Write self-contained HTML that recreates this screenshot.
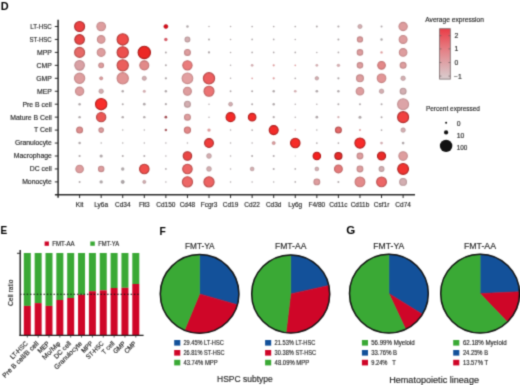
<!DOCTYPE html>
<html><head><meta charset="utf-8"><style>
html,body{margin:0;padding:0;background:#fff;}
body{width:520px;height:385px;overflow:hidden;}
svg{display:block;will-change:transform;font-family:"Liberation Sans",sans-serif;}
</style></head><body>
<svg width="520" height="385" viewBox="0 0 520 385">
<defs><filter id="soft" x="0" y="0" width="520" height="385" filterUnits="userSpaceOnUse" color-interpolation-filters="sRGB"><feConvolveMatrix order="3" kernelMatrix="1 4 1 4 16 4 1 4 1" edgeMode="duplicate" preserveAlpha="true"/></filter></defs>
<g filter="url(#soft)">
<rect width="520" height="385" fill="#fff"/>
<text x="0.8" y="10.0" font-size="10.6" text-anchor="start" font-weight="bold" fill="#000" textLength="7.9" lengthAdjust="spacingAndGlyphs" >D</text>
<line x1="58.1" y1="19.8" x2="58.1" y2="197.8" stroke="#2a2a2a" stroke-width="1.5"/>
<line x1="54.9" y1="194.8" x2="415" y2="194.8" stroke="#2a2a2a" stroke-width="1.5"/>
<line x1="54.8" y1="26.50" x2="58.1" y2="26.50" stroke="#2a2a2a" stroke-width="1"/>
<text x="51.8" y="28.85" font-size="6.85" text-anchor="end" font-weight="normal" fill="#262626" stroke="#262626" stroke-width="0.15" textLength="21.6" lengthAdjust="spacingAndGlyphs" >LT-HSC</text>
<line x1="54.8" y1="39.45" x2="58.1" y2="39.45" stroke="#2a2a2a" stroke-width="1"/>
<text x="51.8" y="41.800000000000004" font-size="6.85" text-anchor="end" font-weight="normal" fill="#262626" stroke="#262626" stroke-width="0.15" textLength="22.4" lengthAdjust="spacingAndGlyphs" >ST-HSC</text>
<line x1="54.8" y1="52.40" x2="58.1" y2="52.40" stroke="#2a2a2a" stroke-width="1"/>
<text x="51.8" y="54.75" font-size="6.85" text-anchor="end" font-weight="normal" fill="#262626" stroke="#262626" stroke-width="0.15" >MPP</text>
<line x1="54.8" y1="65.35" x2="58.1" y2="65.35" stroke="#2a2a2a" stroke-width="1"/>
<text x="51.8" y="67.69999999999999" font-size="6.85" text-anchor="end" font-weight="normal" fill="#262626" stroke="#262626" stroke-width="0.15" >CMP</text>
<line x1="54.8" y1="78.30" x2="58.1" y2="78.30" stroke="#2a2a2a" stroke-width="1"/>
<text x="51.8" y="80.64999999999999" font-size="6.85" text-anchor="end" font-weight="normal" fill="#262626" stroke="#262626" stroke-width="0.15" >GMP</text>
<line x1="54.8" y1="91.25" x2="58.1" y2="91.25" stroke="#2a2a2a" stroke-width="1"/>
<text x="51.8" y="93.6" font-size="6.85" text-anchor="end" font-weight="normal" fill="#262626" stroke="#262626" stroke-width="0.15" >MEP</text>
<line x1="54.8" y1="104.20" x2="58.1" y2="104.20" stroke="#2a2a2a" stroke-width="1"/>
<text x="51.8" y="106.54999999999998" font-size="6.85" text-anchor="end" font-weight="normal" fill="#262626" stroke="#262626" stroke-width="0.15" >Pre B cell</text>
<line x1="54.8" y1="117.15" x2="58.1" y2="117.15" stroke="#2a2a2a" stroke-width="1"/>
<text x="51.8" y="119.49999999999999" font-size="6.85" text-anchor="end" font-weight="normal" fill="#262626" stroke="#262626" stroke-width="0.15" >Mature B Cell</text>
<line x1="54.8" y1="130.10" x2="58.1" y2="130.10" stroke="#2a2a2a" stroke-width="1"/>
<text x="51.8" y="132.45" font-size="6.85" text-anchor="end" font-weight="normal" fill="#262626" stroke="#262626" stroke-width="0.15" >T Cell</text>
<line x1="54.8" y1="143.05" x2="58.1" y2="143.05" stroke="#2a2a2a" stroke-width="1"/>
<text x="51.8" y="145.4" font-size="6.85" text-anchor="end" font-weight="normal" fill="#262626" stroke="#262626" stroke-width="0.15" >Granulocyte</text>
<line x1="54.8" y1="156.00" x2="58.1" y2="156.00" stroke="#2a2a2a" stroke-width="1"/>
<text x="51.8" y="158.35" font-size="6.85" text-anchor="end" font-weight="normal" fill="#262626" stroke="#262626" stroke-width="0.15" >Macrophage</text>
<line x1="54.8" y1="168.95" x2="58.1" y2="168.95" stroke="#2a2a2a" stroke-width="1"/>
<text x="51.8" y="171.29999999999998" font-size="6.85" text-anchor="end" font-weight="normal" fill="#262626" stroke="#262626" stroke-width="0.15" >DC cell</text>
<line x1="54.8" y1="181.90" x2="58.1" y2="181.90" stroke="#2a2a2a" stroke-width="1"/>
<text x="51.8" y="184.24999999999997" font-size="6.85" text-anchor="end" font-weight="normal" fill="#262626" stroke="#262626" stroke-width="0.15" >Monocyte</text>
<line x1="79.60" y1="194.8" x2="79.60" y2="198" stroke="#2a2a2a" stroke-width="1"/>
<text x="79.6" y="206.5" font-size="6.5" text-anchor="middle" font-weight="normal" fill="#262626" stroke="#262626" stroke-width="0.15" >Kit</text>
<line x1="101.17" y1="194.8" x2="101.17" y2="198" stroke="#2a2a2a" stroke-width="1"/>
<text x="101.167" y="206.5" font-size="6.5" text-anchor="middle" font-weight="normal" fill="#262626" stroke="#262626" stroke-width="0.15" >Ly6a</text>
<line x1="122.73" y1="194.8" x2="122.73" y2="198" stroke="#2a2a2a" stroke-width="1"/>
<text x="122.734" y="206.5" font-size="6.5" text-anchor="middle" font-weight="normal" fill="#262626" stroke="#262626" stroke-width="0.15" >Cd34</text>
<line x1="144.30" y1="194.8" x2="144.30" y2="198" stroke="#2a2a2a" stroke-width="1"/>
<text x="144.301" y="206.5" font-size="6.5" text-anchor="middle" font-weight="normal" fill="#262626" stroke="#262626" stroke-width="0.15" >Flt3</text>
<line x1="165.87" y1="194.8" x2="165.87" y2="198" stroke="#2a2a2a" stroke-width="1"/>
<text x="165.868" y="206.5" font-size="6.5" text-anchor="middle" font-weight="normal" fill="#262626" stroke="#262626" stroke-width="0.15" >Cd150</text>
<line x1="187.44" y1="194.8" x2="187.44" y2="198" stroke="#2a2a2a" stroke-width="1"/>
<text x="187.435" y="206.5" font-size="6.5" text-anchor="middle" font-weight="normal" fill="#262626" stroke="#262626" stroke-width="0.15" >Cd48</text>
<line x1="209.00" y1="194.8" x2="209.00" y2="198" stroke="#2a2a2a" stroke-width="1"/>
<text x="209.00199999999998" y="206.5" font-size="6.5" text-anchor="middle" font-weight="normal" fill="#262626" stroke="#262626" stroke-width="0.15" >Fcgr3</text>
<line x1="230.57" y1="194.8" x2="230.57" y2="198" stroke="#2a2a2a" stroke-width="1"/>
<text x="230.569" y="206.5" font-size="6.5" text-anchor="middle" font-weight="normal" fill="#262626" stroke="#262626" stroke-width="0.15" >Cd19</text>
<line x1="252.14" y1="194.8" x2="252.14" y2="198" stroke="#2a2a2a" stroke-width="1"/>
<text x="252.136" y="206.5" font-size="6.5" text-anchor="middle" font-weight="normal" fill="#262626" stroke="#262626" stroke-width="0.15" >Cd22</text>
<line x1="273.70" y1="194.8" x2="273.70" y2="198" stroke="#2a2a2a" stroke-width="1"/>
<text x="273.703" y="206.5" font-size="6.5" text-anchor="middle" font-weight="normal" fill="#262626" stroke="#262626" stroke-width="0.15" >Cd3d</text>
<line x1="295.27" y1="194.8" x2="295.27" y2="198" stroke="#2a2a2a" stroke-width="1"/>
<text x="295.27" y="206.5" font-size="6.5" text-anchor="middle" font-weight="normal" fill="#262626" stroke="#262626" stroke-width="0.15" >Ly6g</text>
<line x1="316.84" y1="194.8" x2="316.84" y2="198" stroke="#2a2a2a" stroke-width="1"/>
<text x="316.837" y="206.5" font-size="6.5" text-anchor="middle" font-weight="normal" fill="#262626" stroke="#262626" stroke-width="0.15" >F4/80</text>
<line x1="338.40" y1="194.8" x2="338.40" y2="198" stroke="#2a2a2a" stroke-width="1"/>
<text x="338.404" y="206.5" font-size="6.5" text-anchor="middle" font-weight="normal" fill="#262626" stroke="#262626" stroke-width="0.15" >Cd11c</text>
<line x1="359.97" y1="194.8" x2="359.97" y2="198" stroke="#2a2a2a" stroke-width="1"/>
<text x="359.971" y="206.5" font-size="6.5" text-anchor="middle" font-weight="normal" fill="#262626" stroke="#262626" stroke-width="0.15" >Cd11b</text>
<line x1="381.54" y1="194.8" x2="381.54" y2="198" stroke="#2a2a2a" stroke-width="1"/>
<text x="381.538" y="206.5" font-size="6.5" text-anchor="middle" font-weight="normal" fill="#262626" stroke="#262626" stroke-width="0.15" >Csf1r</text>
<line x1="403.11" y1="194.8" x2="403.11" y2="198" stroke="#2a2a2a" stroke-width="1"/>
<text x="403.105" y="206.5" font-size="6.5" text-anchor="middle" font-weight="normal" fill="#262626" stroke="#262626" stroke-width="0.15" >Cd74</text>
<circle cx="79.60" cy="26.50" r="5.00" fill="#eb4142" stroke="#ac2f30" stroke-width="1.1"/>
<circle cx="101.17" cy="26.50" r="4.30" fill="#de9d9e" stroke="#c38a8b" stroke-width="1.1"/>
<circle cx="165.87" cy="26.50" r="2.00" fill="#d80e1a" stroke="#b10b15" stroke-width="0.6"/>
<circle cx="187.44" cy="26.50" r="1.25" fill="#b0a8aa"/>
<circle cx="209.00" cy="26.50" r="0.75" fill="#b0a8aa"/>
<circle cx="230.57" cy="26.50" r="0.75" fill="#b0a8aa"/>
<circle cx="252.14" cy="26.50" r="0.85" fill="#b0a8aa"/>
<circle cx="273.70" cy="26.50" r="0.85" fill="#b0a8aa"/>
<circle cx="295.27" cy="26.50" r="0.85" fill="#b0a8aa"/>
<circle cx="316.84" cy="26.50" r="1.00" fill="#b0a8aa"/>
<circle cx="338.40" cy="26.50" r="1.10" fill="#b0a8aa"/>
<circle cx="359.97" cy="26.50" r="2.10" fill="#d3aeb1" stroke="#ad8e91" stroke-width="0.6"/>
<circle cx="381.54" cy="26.50" r="1.00" fill="#b0a8aa"/>
<circle cx="403.11" cy="26.50" r="4.15" fill="#de9d9e" stroke="#c38a8b" stroke-width="1.1"/>
<circle cx="79.60" cy="39.45" r="4.80" fill="#ea4646" stroke="#ad3333" stroke-width="1.1"/>
<circle cx="101.17" cy="39.45" r="3.80" fill="#de9d9e" stroke="#c38a8b" stroke-width="1.1"/>
<circle cx="122.73" cy="39.45" r="5.65" fill="#ef4c49" stroke="#b13836" stroke-width="1.1"/>
<circle cx="165.87" cy="39.45" r="1.70" fill="#d4606a"/>
<circle cx="187.44" cy="39.45" r="2.40" fill="#d3aeb1" stroke="#b9999b" stroke-width="1.1"/>
<circle cx="209.00" cy="39.45" r="1.00" fill="#b0a8aa"/>
<circle cx="230.57" cy="39.45" r="0.75" fill="#b0a8aa"/>
<circle cx="252.14" cy="39.45" r="0.85" fill="#b0a8aa"/>
<circle cx="273.70" cy="39.45" r="0.85" fill="#b0a8aa"/>
<circle cx="295.27" cy="39.45" r="0.75" fill="#b0a8aa"/>
<circle cx="338.40" cy="39.45" r="1.00" fill="#b0a8aa"/>
<circle cx="359.97" cy="39.45" r="2.60" fill="#de9d9e" stroke="#c38a8b" stroke-width="1.1"/>
<circle cx="381.54" cy="39.45" r="1.20" fill="#b0a8aa"/>
<circle cx="403.11" cy="39.45" r="3.95" fill="#de9d9e" stroke="#c38a8b" stroke-width="1.1"/>
<circle cx="79.60" cy="52.40" r="5.00" fill="#e66967" stroke="#b85452" stroke-width="1.1"/>
<circle cx="101.17" cy="52.40" r="3.95" fill="#de9d9e" stroke="#c38a8b" stroke-width="1.1"/>
<circle cx="122.73" cy="52.40" r="5.65" fill="#ec4f4d" stroke="#b13b3a" stroke-width="1.1"/>
<circle cx="144.30" cy="52.40" r="6.20" fill="#ec2825" stroke="#a91c1a" stroke-width="1.1"/>
<circle cx="165.87" cy="52.40" r="1.00" fill="#b0a8aa"/>
<circle cx="187.44" cy="52.40" r="2.95" fill="#de9d9e" stroke="#c38a8b" stroke-width="1.1"/>
<circle cx="209.00" cy="52.40" r="1.15" fill="#b0a8aa"/>
<circle cx="230.57" cy="52.40" r="0.75" fill="#b0a8aa"/>
<circle cx="252.14" cy="52.40" r="0.85" fill="#b0a8aa"/>
<circle cx="273.70" cy="52.40" r="0.85" fill="#b0a8aa"/>
<circle cx="295.27" cy="52.40" r="0.85" fill="#b0a8aa"/>
<circle cx="316.84" cy="52.40" r="0.75" fill="#b0a8aa"/>
<circle cx="338.40" cy="52.40" r="0.85" fill="#b0a8aa"/>
<circle cx="359.97" cy="52.40" r="2.75" fill="#de9d9e" stroke="#c38a8b" stroke-width="1.1"/>
<circle cx="381.54" cy="52.40" r="1.20" fill="#de9d9e"/>
<circle cx="403.11" cy="52.40" r="3.80" fill="#de9d9e" stroke="#c38a8b" stroke-width="1.1"/>
<circle cx="79.60" cy="65.35" r="4.80" fill="#d9a0a4" stroke="#be8c90" stroke-width="1.1"/>
<circle cx="101.17" cy="65.35" r="2.40" fill="#de9d9e" stroke="#c38a8b" stroke-width="1.1"/>
<circle cx="122.73" cy="65.35" r="5.65" fill="#eb5e5c" stroke="#b74947" stroke-width="1.1"/>
<circle cx="144.30" cy="65.35" r="4.50" fill="#e28a89" stroke="#c27676" stroke-width="1.1"/>
<circle cx="165.87" cy="65.35" r="1.00" fill="#b0a8aa"/>
<circle cx="187.44" cy="65.35" r="4.65" fill="#ea7c7c" stroke="#c16666" stroke-width="1.1"/>
<circle cx="230.57" cy="65.35" r="0.75" fill="#b0a8aa"/>
<circle cx="252.14" cy="65.35" r="1.35" fill="#d3aeb1"/>
<circle cx="273.70" cy="65.35" r="1.10" fill="#de9d9e"/>
<circle cx="295.27" cy="65.35" r="0.85" fill="#de9d9e"/>
<circle cx="316.84" cy="65.35" r="1.35" fill="#d3aeb1"/>
<circle cx="338.40" cy="65.35" r="1.70" fill="#d3aeb1"/>
<circle cx="359.97" cy="65.35" r="2.75" fill="#de9d9e" stroke="#c38a8b" stroke-width="1.1"/>
<circle cx="381.54" cy="65.35" r="3.80" fill="#e38888" stroke="#c27474" stroke-width="1.1"/>
<circle cx="403.11" cy="65.35" r="2.95" fill="#de9d9e" stroke="#c38a8b" stroke-width="1.1"/>
<circle cx="79.60" cy="78.30" r="5.15" fill="#de9d9e" stroke="#c38a8b" stroke-width="1.1"/>
<circle cx="101.17" cy="78.30" r="1.60" fill="#de9d9e" stroke="#b68081" stroke-width="0.6"/>
<circle cx="122.73" cy="78.30" r="5.65" fill="#e29595" stroke="#c68383" stroke-width="1.1"/>
<circle cx="144.30" cy="78.30" r="2.10" fill="#d3aeb1" stroke="#ad8e91" stroke-width="0.6"/>
<circle cx="165.87" cy="78.30" r="1.15" fill="#b0a8aa"/>
<circle cx="187.44" cy="78.30" r="5.35" fill="#e3a0a1" stroke="#c78c8d" stroke-width="1.1"/>
<circle cx="209.00" cy="78.30" r="5.65" fill="#ec5e5f" stroke="#b74949" stroke-width="1.1"/>
<circle cx="230.57" cy="78.30" r="0.75" fill="#b0a8aa"/>
<circle cx="252.14" cy="78.30" r="0.85" fill="#de9d9e"/>
<circle cx="273.70" cy="78.30" r="1.10" fill="#de9d9e"/>
<circle cx="295.27" cy="78.30" r="0.85" fill="#b0a8aa"/>
<circle cx="316.84" cy="78.30" r="1.75" fill="#d3aeb1" stroke="#ad8e91" stroke-width="0.6"/>
<circle cx="338.40" cy="78.30" r="1.10" fill="#b0a8aa"/>
<circle cx="359.97" cy="78.30" r="3.45" fill="#de9d9e" stroke="#c38a8b" stroke-width="1.1"/>
<circle cx="381.54" cy="78.30" r="4.30" fill="#e29596" stroke="#c68383" stroke-width="1.1"/>
<circle cx="403.11" cy="78.30" r="2.25" fill="#d3aeb1" stroke="#ad8e91" stroke-width="0.6"/>
<circle cx="79.60" cy="91.25" r="4.15" fill="#de9d9e" stroke="#c38a8b" stroke-width="1.1"/>
<circle cx="101.17" cy="91.25" r="2.25" fill="#d3aeb1" stroke="#ad8e91" stroke-width="0.6"/>
<circle cx="122.73" cy="91.25" r="1.20" fill="#b0a8aa"/>
<circle cx="144.30" cy="91.25" r="1.50" fill="#d3aeb1"/>
<circle cx="165.87" cy="91.25" r="1.20" fill="#b0a8aa"/>
<circle cx="187.44" cy="91.25" r="3.95" fill="#de9d9e" stroke="#c38a8b" stroke-width="1.1"/>
<circle cx="209.00" cy="91.25" r="5.00" fill="#eb7373" stroke="#be5d5d" stroke-width="1.1"/>
<circle cx="230.57" cy="91.25" r="0.90" fill="#b0a8aa"/>
<circle cx="252.14" cy="91.25" r="1.00" fill="#b0a8aa"/>
<circle cx="273.70" cy="91.25" r="1.20" fill="#b0a8aa"/>
<circle cx="295.27" cy="91.25" r="1.35" fill="#d3aeb1"/>
<circle cx="316.84" cy="91.25" r="1.35" fill="#b0a8aa"/>
<circle cx="338.40" cy="91.25" r="1.20" fill="#b0a8aa"/>
<circle cx="359.97" cy="91.25" r="3.80" fill="#de9d9e" stroke="#c38a8b" stroke-width="1.1"/>
<circle cx="381.54" cy="91.25" r="2.25" fill="#d3aeb1" stroke="#ad8e91" stroke-width="0.6"/>
<circle cx="403.11" cy="91.25" r="2.95" fill="#d3aeb1" stroke="#b9999b" stroke-width="1.1"/>
<circle cx="79.60" cy="104.20" r="1.20" fill="#b0a8aa"/>
<circle cx="101.17" cy="104.20" r="5.65" fill="#f82d2a" stroke="#b2201e" stroke-width="1.1"/>
<circle cx="122.73" cy="104.20" r="1.00" fill="#b0a8aa"/>
<circle cx="144.30" cy="104.20" r="1.35" fill="#b0a8aa"/>
<circle cx="165.87" cy="104.20" r="1.10" fill="#b0a8aa"/>
<circle cx="187.44" cy="104.20" r="2.95" fill="#d3aeb1" stroke="#b9999b" stroke-width="1.1"/>
<circle cx="209.00" cy="104.20" r="0.75" fill="#b0a8aa"/>
<circle cx="230.57" cy="104.20" r="1.95" fill="#d3aeb1" stroke="#ad8e91" stroke-width="0.6"/>
<circle cx="252.14" cy="104.20" r="1.00" fill="#b0a8aa"/>
<circle cx="273.70" cy="104.20" r="1.20" fill="#b0a8aa"/>
<circle cx="295.27" cy="104.20" r="0.75" fill="#b0a8aa"/>
<circle cx="316.84" cy="104.20" r="0.75" fill="#b0a8aa"/>
<circle cx="338.40" cy="104.20" r="1.00" fill="#b0a8aa"/>
<circle cx="359.97" cy="104.20" r="1.00" fill="#b0a8aa"/>
<circle cx="381.54" cy="104.20" r="1.00" fill="#b0a8aa"/>
<circle cx="403.11" cy="104.20" r="5.50" fill="#dca4a7" stroke="#c19092" stroke-width="1.1"/>
<circle cx="79.60" cy="117.15" r="1.20" fill="#b0a8aa"/>
<circle cx="101.17" cy="117.15" r="4.65" fill="#eb5755" stroke="#b44241" stroke-width="1.1"/>
<circle cx="122.73" cy="117.15" r="1.20" fill="#b0a8aa"/>
<circle cx="144.30" cy="117.15" r="1.20" fill="#b0a8aa"/>
<circle cx="165.87" cy="117.15" r="1.35" fill="#a35055"/>
<circle cx="187.44" cy="117.15" r="2.95" fill="#de9d9e" stroke="#c38a8b" stroke-width="1.1"/>
<circle cx="209.00" cy="117.15" r="0.75" fill="#b0a8aa"/>
<circle cx="230.57" cy="117.15" r="4.50" fill="#f52a28" stroke="#b01e1c" stroke-width="1.1"/>
<circle cx="252.14" cy="117.15" r="3.80" fill="#f42d2b" stroke="#af201e" stroke-width="1.1"/>
<circle cx="273.70" cy="117.15" r="1.10" fill="#b0a8aa"/>
<circle cx="295.27" cy="117.15" r="0.75" fill="#b0a8aa"/>
<circle cx="316.84" cy="117.15" r="1.35" fill="#b0a8aa"/>
<circle cx="338.40" cy="117.15" r="1.10" fill="#d3aeb1"/>
<circle cx="359.97" cy="117.15" r="1.50" fill="#b0a8aa"/>
<circle cx="381.54" cy="117.15" r="1.00" fill="#b0a8aa"/>
<circle cx="403.11" cy="117.15" r="5.50" fill="#f14241" stroke="#ae2f2f" stroke-width="1.1"/>
<circle cx="79.60" cy="130.10" r="2.95" fill="#de8e8e" stroke="#c27c7c" stroke-width="1.1"/>
<circle cx="101.17" cy="130.10" r="2.25" fill="#de9d9e" stroke="#c38a8b" stroke-width="1.1"/>
<circle cx="122.73" cy="130.10" r="0.75" fill="#b0a8aa"/>
<circle cx="144.30" cy="130.10" r="0.75" fill="#b0a8aa"/>
<circle cx="165.87" cy="130.10" r="1.25" fill="#aa6064"/>
<circle cx="187.44" cy="130.10" r="3.10" fill="#e38888" stroke="#c27474" stroke-width="1.1"/>
<circle cx="209.00" cy="130.10" r="1.70" fill="#de9d9e"/>
<circle cx="230.57" cy="130.10" r="0.75" fill="#b0a8aa"/>
<circle cx="252.14" cy="130.10" r="0.85" fill="#b0a8aa"/>
<circle cx="273.70" cy="130.10" r="4.50" fill="#f32c2a" stroke="#ae1f1e" stroke-width="1.1"/>
<circle cx="295.27" cy="130.10" r="0.75" fill="#de9d9e"/>
<circle cx="316.84" cy="130.10" r="0.75" fill="#b0a8aa"/>
<circle cx="338.40" cy="130.10" r="2.95" fill="#e46969" stroke="#b85454" stroke-width="1.1"/>
<circle cx="359.97" cy="130.10" r="1.00" fill="#de9d9e"/>
<circle cx="381.54" cy="130.10" r="0.85" fill="#b0a8aa"/>
<circle cx="403.11" cy="130.10" r="2.25" fill="#d3aeb1" stroke="#ad8e91" stroke-width="0.6"/>
<circle cx="79.60" cy="143.05" r="1.25" fill="#b0a8aa"/>
<circle cx="101.17" cy="143.05" r="0.75" fill="#b0a8aa"/>
<circle cx="122.73" cy="143.05" r="0.75" fill="#b0a8aa"/>
<circle cx="144.30" cy="143.05" r="0.75" fill="#b0a8aa"/>
<circle cx="165.87" cy="143.05" r="0.75" fill="#b0a8aa"/>
<circle cx="187.44" cy="143.05" r="0.75" fill="#b0a8aa"/>
<circle cx="209.00" cy="143.05" r="4.40" fill="#f03d3c" stroke="#ac2b2b" stroke-width="1.1"/>
<circle cx="230.57" cy="143.05" r="0.75" fill="#b0a8aa"/>
<circle cx="252.14" cy="143.05" r="0.75" fill="#b0a8aa"/>
<circle cx="273.70" cy="143.05" r="1.55" fill="#de9d9e" stroke="#b68081" stroke-width="0.6"/>
<circle cx="295.27" cy="143.05" r="4.75" fill="#f62c28" stroke="#b11f1c" stroke-width="1.1"/>
<circle cx="316.84" cy="143.05" r="0.85" fill="#b0a8aa"/>
<circle cx="338.40" cy="143.05" r="0.85" fill="#b0a8aa"/>
<circle cx="359.97" cy="143.05" r="5.10" fill="#f82c2a" stroke="#b21f1e" stroke-width="1.1"/>
<circle cx="381.54" cy="143.05" r="1.35" fill="#d3aeb1"/>
<circle cx="403.11" cy="143.05" r="1.35" fill="#b0a8aa"/>
<circle cx="79.60" cy="156.00" r="1.10" fill="#b0a8aa"/>
<circle cx="101.17" cy="156.00" r="1.60" fill="#b0a8aa"/>
<circle cx="122.73" cy="156.00" r="1.00" fill="#b0a8aa"/>
<circle cx="144.30" cy="156.00" r="1.00" fill="#b0a8aa"/>
<circle cx="165.87" cy="156.00" r="0.75" fill="#b0a8aa"/>
<circle cx="187.44" cy="156.00" r="4.25" fill="#ea4644" stroke="#ad3332" stroke-width="1.1"/>
<circle cx="209.00" cy="156.00" r="2.40" fill="#d3aeb1" stroke="#ad8e91" stroke-width="0.6"/>
<circle cx="230.57" cy="156.00" r="0.75" fill="#b0a8aa"/>
<circle cx="252.14" cy="156.00" r="1.00" fill="#b0a8aa"/>
<circle cx="273.70" cy="156.00" r="1.00" fill="#b0a8aa"/>
<circle cx="295.27" cy="156.00" r="0.60" fill="#b0a8aa"/>
<circle cx="316.84" cy="156.00" r="3.75" fill="#f4211f" stroke="#af1716" stroke-width="1.1"/>
<circle cx="338.40" cy="156.00" r="3.55" fill="#e62a29" stroke="#a51e1d" stroke-width="1.1"/>
<circle cx="359.97" cy="156.00" r="2.90" fill="#de9d9e" stroke="#c38a8b" stroke-width="1.1"/>
<circle cx="381.54" cy="156.00" r="4.05" fill="#eb2a28" stroke="#a91e1c" stroke-width="1.1"/>
<circle cx="403.11" cy="156.00" r="4.25" fill="#de9d9e" stroke="#c38a8b" stroke-width="1.1"/>
<circle cx="79.60" cy="168.95" r="3.75" fill="#de9d9e" stroke="#c38a8b" stroke-width="1.1"/>
<circle cx="101.17" cy="168.95" r="2.70" fill="#de9d9e" stroke="#c38a8b" stroke-width="1.1"/>
<circle cx="122.73" cy="168.95" r="1.70" fill="#b0a8aa"/>
<circle cx="144.30" cy="168.95" r="4.75" fill="#f04f4c" stroke="#b33b38" stroke-width="1.1"/>
<circle cx="165.87" cy="168.95" r="0.90" fill="#b0a8aa"/>
<circle cx="187.44" cy="168.95" r="4.75" fill="#ed6665" stroke="#ba504f" stroke-width="1.1"/>
<circle cx="209.00" cy="168.95" r="2.40" fill="#d3aeb1" stroke="#ad8e91" stroke-width="0.6"/>
<circle cx="230.57" cy="168.95" r="0.75" fill="#b0a8aa"/>
<circle cx="252.14" cy="168.95" r="1.90" fill="#d3aeb1" stroke="#ad8e91" stroke-width="0.6"/>
<circle cx="273.70" cy="168.95" r="1.00" fill="#b0a8aa"/>
<circle cx="295.27" cy="168.95" r="0.85" fill="#b0a8aa"/>
<circle cx="316.84" cy="168.95" r="1.90" fill="#d3aeb1" stroke="#ad8e91" stroke-width="0.6"/>
<circle cx="338.40" cy="168.95" r="3.90" fill="#e47a7a" stroke="#be6565" stroke-width="1.1"/>
<circle cx="359.97" cy="168.95" r="2.90" fill="#de9d9e" stroke="#c38a8b" stroke-width="1.1"/>
<circle cx="381.54" cy="168.95" r="2.40" fill="#d3aeb1" stroke="#b9999b" stroke-width="1.1"/>
<circle cx="403.11" cy="168.95" r="5.40" fill="#f03431" stroke="#ac2523" stroke-width="1.1"/>
<circle cx="79.60" cy="181.90" r="1.00" fill="#b0a8aa"/>
<circle cx="101.17" cy="181.90" r="1.70" fill="#b0a8aa"/>
<circle cx="122.73" cy="181.90" r="1.55" fill="#b0a8aa" stroke="#90898b" stroke-width="0.6"/>
<circle cx="144.30" cy="181.90" r="1.55" fill="#d3aeb1" stroke="#ad8e91" stroke-width="0.6"/>
<circle cx="165.87" cy="181.90" r="0.75" fill="#b0a8aa"/>
<circle cx="187.44" cy="181.90" r="5.10" fill="#ed6766" stroke="#bb5150" stroke-width="1.1"/>
<circle cx="209.00" cy="181.90" r="5.10" fill="#ed6362" stroke="#b94d4c" stroke-width="1.1"/>
<circle cx="230.57" cy="181.90" r="0.75" fill="#b0a8aa"/>
<circle cx="252.14" cy="181.90" r="0.75" fill="#b0a8aa"/>
<circle cx="273.70" cy="181.90" r="0.75" fill="#b0a8aa"/>
<circle cx="295.27" cy="181.90" r="0.85" fill="#b0a8aa"/>
<circle cx="316.84" cy="181.90" r="2.90" fill="#de9d9e" stroke="#c38a8b" stroke-width="1.1"/>
<circle cx="338.40" cy="181.90" r="1.00" fill="#b0a8aa"/>
<circle cx="359.97" cy="181.90" r="4.90" fill="#e38a8a" stroke="#c37676" stroke-width="1.1"/>
<circle cx="381.54" cy="181.90" r="4.90" fill="#ec6666" stroke="#ba5050" stroke-width="1.1"/>
<circle cx="403.11" cy="181.90" r="3.40" fill="#d3aeb1" stroke="#b9999b" stroke-width="1.1"/>
<text x="425.3" y="21.5" font-size="7" text-anchor="start" font-weight="normal" fill="#262626" stroke="#262626" stroke-width="0.15" textLength="58.6" lengthAdjust="spacingAndGlyphs" >Average expression</text>
<defs><linearGradient id="cb" x1="0" y1="0" x2="0" y2="1"><stop offset="0" stop-color="#ea3c46"/><stop offset="0.35" stop-color="#e6767c"/><stop offset="0.68" stop-color="#dea4a8"/><stop offset="1" stop-color="#d9cdcf"/></linearGradient></defs>
<rect x="439.6" y="28.7" width="10.7" height="50.4" fill="url(#cb)" stroke="#7a6a6c" stroke-width="0.8"/>
<line x1="439.6" y1="35.7" x2="441.4" y2="35.7" stroke="#6a5a5c" stroke-width="0.7"/>
<line x1="448.5" y1="35.7" x2="450.3" y2="35.7" stroke="#6a5a5c" stroke-width="0.7"/>
<text x="454.6" y="38.1" font-size="6.8" text-anchor="start" font-weight="normal" fill="#262626" stroke="#262626" stroke-width="0.15" >2</text>
<line x1="439.6" y1="48.9" x2="441.4" y2="48.9" stroke="#6a5a5c" stroke-width="0.7"/>
<line x1="448.5" y1="48.9" x2="450.3" y2="48.9" stroke="#6a5a5c" stroke-width="0.7"/>
<text x="454.6" y="51.3" font-size="6.8" text-anchor="start" font-weight="normal" fill="#262626" stroke="#262626" stroke-width="0.15" >1</text>
<line x1="439.6" y1="62.5" x2="441.4" y2="62.5" stroke="#6a5a5c" stroke-width="0.7"/>
<line x1="448.5" y1="62.5" x2="450.3" y2="62.5" stroke="#6a5a5c" stroke-width="0.7"/>
<text x="454.6" y="64.9" font-size="6.8" text-anchor="start" font-weight="normal" fill="#262626" stroke="#262626" stroke-width="0.15" >0</text>
<line x1="439.6" y1="76.1" x2="441.4" y2="76.1" stroke="#6a5a5c" stroke-width="0.7"/>
<line x1="448.5" y1="76.1" x2="450.3" y2="76.1" stroke="#6a5a5c" stroke-width="0.7"/>
<text x="454.0" y="78.5" font-size="6.8" text-anchor="start" font-weight="normal" fill="#262626" stroke="#262626" stroke-width="0.15" >&#8722;1</text>
<text x="425.9" y="111.0" font-size="7" text-anchor="start" font-weight="normal" fill="#262626" stroke="#262626" stroke-width="0.15" textLength="54.1" lengthAdjust="spacingAndGlyphs" >Percent expressed</text>
<circle cx="446.1" cy="122.8" r="1.0" fill="#111"/>
<circle cx="446.1" cy="132.4" r="2.1" fill="#111"/>
<circle cx="446.1" cy="145.9" r="6.2" fill="#111"/>
<text x="456.8" y="125.6" font-size="6.8" text-anchor="start" font-weight="normal" fill="#262626" stroke="#262626" stroke-width="0.15" >0</text>
<text x="456.8" y="137.9" font-size="6.8" text-anchor="start" font-weight="normal" fill="#262626" stroke="#262626" stroke-width="0.15" textLength="7.6" lengthAdjust="spacingAndGlyphs" >10</text>
<text x="456.8" y="150.2" font-size="6.8" text-anchor="start" font-weight="normal" fill="#262626" stroke="#262626" stroke-width="0.15" textLength="10.6" lengthAdjust="spacingAndGlyphs" >100</text>
<text x="0.6" y="234.3" font-size="10" text-anchor="start" font-weight="bold" fill="#000" >E</text>
<rect x="44.6" y="241.5" width="4.3" height="4.3" fill="#cf0628"/>
<text x="52.3" y="245.8" font-size="6.3" text-anchor="start" font-weight="normal" fill="#262626" stroke="#262626" stroke-width="0.15" textLength="22.3" lengthAdjust="spacingAndGlyphs" >FMT-AA</text>
<rect x="90.3" y="241.5" width="4.5" height="4.3" fill="#3aa935"/>
<text x="98.2" y="245.8" font-size="6.3" text-anchor="start" font-weight="normal" fill="#262626" stroke="#262626" stroke-width="0.15" textLength="21.0" lengthAdjust="spacingAndGlyphs" >FMT-YA</text>
<rect x="23.80" y="253.0" width="7.0" height="52.90" fill="#3aa935"/>
<rect x="23.80" y="305.90" width="7.0" height="29.10" fill="#cf0628"/>
<rect x="34.65" y="253.0" width="7.0" height="50.10" fill="#3aa935"/>
<rect x="34.65" y="303.10" width="7.0" height="31.90" fill="#cf0628"/>
<rect x="45.50" y="253.0" width="7.0" height="52.90" fill="#3aa935"/>
<rect x="45.50" y="305.90" width="7.0" height="29.10" fill="#cf0628"/>
<rect x="56.35" y="253.0" width="7.0" height="47.00" fill="#3aa935"/>
<rect x="56.35" y="300.00" width="7.0" height="35.00" fill="#cf0628"/>
<rect x="67.20" y="253.0" width="7.0" height="45.00" fill="#3aa935"/>
<rect x="67.20" y="298.00" width="7.0" height="37.00" fill="#cf0628"/>
<rect x="78.05" y="253.0" width="7.0" height="41.80" fill="#3aa935"/>
<rect x="78.05" y="294.80" width="7.0" height="40.20" fill="#cf0628"/>
<rect x="88.90" y="253.0" width="7.0" height="38.20" fill="#3aa935"/>
<rect x="88.90" y="291.20" width="7.0" height="43.80" fill="#cf0628"/>
<rect x="99.75" y="253.0" width="7.0" height="37.30" fill="#3aa935"/>
<rect x="99.75" y="290.30" width="7.0" height="44.70" fill="#cf0628"/>
<rect x="110.60" y="253.0" width="7.0" height="35.00" fill="#3aa935"/>
<rect x="110.60" y="288.00" width="7.0" height="47.00" fill="#cf0628"/>
<rect x="121.45" y="253.0" width="7.0" height="34.80" fill="#3aa935"/>
<rect x="121.45" y="287.80" width="7.0" height="47.20" fill="#cf0628"/>
<rect x="132.30" y="253.0" width="7.0" height="31.00" fill="#3aa935"/>
<rect x="132.30" y="284.00" width="7.0" height="51.00" fill="#cf0628"/>
<line x1="20.2" y1="250.0" x2="20.2" y2="336.0" stroke="#1e1e1e" stroke-width="1.4"/>
<line x1="17.0" y1="253.3" x2="20.2" y2="253.3" stroke="#2a2a2a" stroke-width="1"/>
<line x1="19.5" y1="335.3" x2="143.6" y2="335.3" stroke="#1e1e1e" stroke-width="1.3"/>
<line x1="20" y1="294.3" x2="139.2" y2="294.3" stroke="#111" stroke-width="1.1" stroke-dasharray="1.5,1.85"/>
<line x1="27.30" y1="335" x2="27.30" y2="337.5" stroke="#2a2a2a" stroke-width="0.8"/>
<text x="0" y="0" font-size="6.7" text-anchor="end" fill="#262626" stroke="#262626" stroke-width="0.15" textLength="22" lengthAdjust="spacingAndGlyphs" transform="translate(28.20,344.0) rotate(-45)">LT-HSC</text>
<line x1="38.15" y1="335" x2="38.15" y2="337.5" stroke="#2a2a2a" stroke-width="0.8"/>
<text x="0" y="0" font-size="6.7" text-anchor="end" fill="#262626" stroke="#262626" stroke-width="0.15" textLength="48.3" lengthAdjust="spacingAndGlyphs" transform="translate(39.05,344.0) rotate(-45)">Pre B cell/B cell</text>
<line x1="49.00" y1="335" x2="49.00" y2="337.5" stroke="#2a2a2a" stroke-width="0.8"/>
<text x="0" y="0" font-size="6.7" text-anchor="end" fill="#262626" stroke="#262626" stroke-width="0.15" textLength="13.5" lengthAdjust="spacingAndGlyphs" transform="translate(49.90,344.0) rotate(-45)">MEP</text>
<line x1="59.85" y1="335" x2="59.85" y2="337.5" stroke="#2a2a2a" stroke-width="0.8"/>
<text x="0" y="0" font-size="6.7" text-anchor="end" fill="#262626" stroke="#262626" stroke-width="0.15" textLength="22.5" lengthAdjust="spacingAndGlyphs" transform="translate(60.75,344.0) rotate(-45)">Mo/M&#966;</text>
<line x1="70.70" y1="335" x2="70.70" y2="337.5" stroke="#2a2a2a" stroke-width="0.8"/>
<text x="0" y="0" font-size="6.7" text-anchor="end" fill="#262626" stroke="#262626" stroke-width="0.15" textLength="21.4" lengthAdjust="spacingAndGlyphs" transform="translate(71.60,344.0) rotate(-45)">DC cell</text>
<line x1="81.55" y1="335" x2="81.55" y2="337.5" stroke="#2a2a2a" stroke-width="0.8"/>
<text x="0" y="0" font-size="6.7" text-anchor="end" fill="#262626" stroke="#262626" stroke-width="0.15" textLength="36.3" lengthAdjust="spacingAndGlyphs" transform="translate(82.45,344.0) rotate(-45)">Granulocyte</text>
<line x1="92.40" y1="335" x2="92.40" y2="337.5" stroke="#2a2a2a" stroke-width="0.8"/>
<text x="0" y="0" font-size="6.7" text-anchor="end" fill="#262626" stroke="#262626" stroke-width="0.15" textLength="13.2" lengthAdjust="spacingAndGlyphs" transform="translate(93.30,344.0) rotate(-45)">MPP</text>
<line x1="103.25" y1="335" x2="103.25" y2="337.5" stroke="#2a2a2a" stroke-width="0.8"/>
<text x="0" y="0" font-size="6.7" text-anchor="end" fill="#262626" stroke="#262626" stroke-width="0.15" textLength="22" lengthAdjust="spacingAndGlyphs" transform="translate(104.15,344.0) rotate(-45)">ST-HSC</text>
<line x1="114.10" y1="335" x2="114.10" y2="337.5" stroke="#2a2a2a" stroke-width="0.8"/>
<text x="0" y="0" font-size="6.7" text-anchor="end" fill="#262626" stroke="#262626" stroke-width="0.15" textLength="15.3" lengthAdjust="spacingAndGlyphs" transform="translate(115.00,344.0) rotate(-45)">T cell</text>
<line x1="124.95" y1="335" x2="124.95" y2="337.5" stroke="#2a2a2a" stroke-width="0.8"/>
<text x="0" y="0" font-size="6.7" text-anchor="end" fill="#262626" stroke="#262626" stroke-width="0.15" textLength="14.3" lengthAdjust="spacingAndGlyphs" transform="translate(125.85,344.0) rotate(-45)">GMP</text>
<line x1="135.80" y1="335" x2="135.80" y2="337.5" stroke="#2a2a2a" stroke-width="0.8"/>
<text x="0" y="0" font-size="6.7" text-anchor="end" fill="#262626" stroke="#262626" stroke-width="0.15" textLength="13.8" lengthAdjust="spacingAndGlyphs" transform="translate(136.70,344.0) rotate(-45)">CMP</text>
<text x="0" y="0" font-size="7" text-anchor="middle" fill="#262626" stroke="#262626" stroke-width="0.15" textLength="26.6" lengthAdjust="spacingAndGlyphs" transform="translate(12.9,292.8) rotate(-90)">Cell ratio</text>
<text x="159.5" y="234.5" font-size="10" text-anchor="start" font-weight="bold" fill="#000" textLength="6.3" lengthAdjust="spacingAndGlyphs" >F</text>
<text x="199.8" y="248.8" font-size="8.6" text-anchor="middle" font-weight="normal" fill="#262626" stroke="#262626" stroke-width="0.15" textLength="29.6" lengthAdjust="spacingAndGlyphs" >FMT-YA</text>
<text x="290.7" y="248.8" font-size="8.6" text-anchor="middle" font-weight="normal" fill="#262626" stroke="#262626" stroke-width="0.15" textLength="31.4" lengthAdjust="spacingAndGlyphs" >FMT-AA</text>
<path d="M199.60,293.90 L199.60,254.60 A39.3,39.3 0 0 1 237.37,304.75 Z" fill="#13519a" stroke="#13519a" stroke-width="0.6" stroke-linejoin="round"/>
<path d="M199.60,293.90 L237.37,304.75 A39.3,39.3 0 0 1 184.54,330.20 Z" fill="#cf0628" stroke="#cf0628" stroke-width="0.6" stroke-linejoin="round"/>
<path d="M199.60,293.90 L184.54,330.20 A39.3,39.3 0 0 1 199.60,254.60 Z" fill="#3aa935" stroke="#3aa935" stroke-width="0.6" stroke-linejoin="round"/>
<circle cx="199.60" cy="293.90" r="39.3" fill="none" stroke="#151515" stroke-width="1.5"/>
<path d="M290.70,293.90 L290.70,254.90 A39.0,39.0 0 0 1 328.78,285.46 Z" fill="#13519a" stroke="#13519a" stroke-width="0.6" stroke-linejoin="round"/>
<path d="M290.70,293.90 L328.78,285.46 A39.0,39.0 0 0 1 286.03,332.62 Z" fill="#cf0628" stroke="#cf0628" stroke-width="0.6" stroke-linejoin="round"/>
<path d="M290.70,293.90 L286.03,332.62 A39.0,39.0 0 0 1 290.70,254.90 Z" fill="#3aa935" stroke="#3aa935" stroke-width="0.6" stroke-linejoin="round"/>
<circle cx="290.70" cy="293.90" r="39.0" fill="none" stroke="#151515" stroke-width="1.5"/>
<rect x="174.2" y="340.0" width="6.1" height="5.6" fill="#13519a"/>
<text x="183.4" y="345.1" font-size="6.3" text-anchor="start" font-weight="normal" fill="#262626" stroke="#262626" stroke-width="0.15" textLength="40.4" lengthAdjust="spacingAndGlyphs" >29.45% LT-HSC</text>
<rect x="174.2" y="350.0" width="6.1" height="5.6" fill="#cf0628"/>
<text x="183.4" y="355.1" font-size="6.3" text-anchor="start" font-weight="normal" fill="#262626" stroke="#262626" stroke-width="0.15" textLength="41.2" lengthAdjust="spacingAndGlyphs" >26.81% ST-HSC</text>
<rect x="174.2" y="359.8" width="6.1" height="5.6" fill="#3aa935"/>
<text x="183.4" y="364.90000000000003" font-size="6.3" text-anchor="start" font-weight="normal" fill="#262626" stroke="#262626" stroke-width="0.15" textLength="34.3" lengthAdjust="spacingAndGlyphs" >43.74% MPP</text>
<rect x="265.1" y="340.0" width="6.1" height="5.6" fill="#13519a"/>
<text x="274.6" y="345.1" font-size="6.3" text-anchor="start" font-weight="normal" fill="#262626" stroke="#262626" stroke-width="0.15" textLength="40.8" lengthAdjust="spacingAndGlyphs" >21.53% LT-HSC</text>
<rect x="265.1" y="350.0" width="6.1" height="5.6" fill="#cf0628"/>
<text x="274.6" y="355.1" font-size="6.3" text-anchor="start" font-weight="normal" fill="#262626" stroke="#262626" stroke-width="0.15" textLength="41.6" lengthAdjust="spacingAndGlyphs" >30.38% ST-HSC</text>
<rect x="265.1" y="359.8" width="6.1" height="5.6" fill="#3aa935"/>
<text x="274.6" y="364.90000000000003" font-size="6.3" text-anchor="start" font-weight="normal" fill="#262626" stroke="#262626" stroke-width="0.15" textLength="34.6" lengthAdjust="spacingAndGlyphs" >48.09% MPP</text>
<text x="217.0" y="382.0" font-size="8.5" text-anchor="start" font-weight="normal" fill="#262626" stroke="#262626" stroke-width="0.15" textLength="55.7" lengthAdjust="spacingAndGlyphs" >HSPC subtype</text>
<text x="346.3" y="234.0" font-size="10" text-anchor="start" font-weight="bold" fill="#000" textLength="9.0" lengthAdjust="spacingAndGlyphs" >G</text>
<text x="388.8" y="249.0" font-size="8.6" text-anchor="middle" font-weight="normal" fill="#262626" stroke="#262626" stroke-width="0.15" textLength="30.9" lengthAdjust="spacingAndGlyphs" >FMT-YA</text>
<text x="480.0" y="248.8" font-size="8.6" text-anchor="middle" font-weight="normal" fill="#262626" stroke="#262626" stroke-width="0.15" textLength="32.1" lengthAdjust="spacingAndGlyphs" >FMT-AA</text>
<path d="M388.90,293.60 L388.90,254.20 A39.4,39.4 0 0 1 422.48,314.21 Z" fill="#13519a" stroke="#13519a" stroke-width="0.6" stroke-linejoin="round"/>
<path d="M388.90,293.60 L422.48,314.21 A39.4,39.4 0 0 1 405.68,329.25 Z" fill="#cf0628" stroke="#cf0628" stroke-width="0.6" stroke-linejoin="round"/>
<path d="M388.90,293.60 L405.68,329.25 A39.4,39.4 0 1 1 388.88,254.20 Z" fill="#3aa935" stroke="#3aa935" stroke-width="0.6" stroke-linejoin="round"/>
<circle cx="388.90" cy="293.60" r="39.4" fill="none" stroke="#151515" stroke-width="1.5"/>
<path d="M480.10,293.60 L480.10,254.20 A39.4,39.4 0 0 1 519.46,291.74 Z" fill="#13519a" stroke="#13519a" stroke-width="0.6" stroke-linejoin="round"/>
<path d="M480.10,293.60 L519.46,291.74 A39.4,39.4 0 0 1 507.39,322.01 Z" fill="#cf0628" stroke="#cf0628" stroke-width="0.6" stroke-linejoin="round"/>
<path d="M480.10,293.60 L507.39,322.01 A39.4,39.4 0 1 1 480.10,254.20 Z" fill="#3aa935" stroke="#3aa935" stroke-width="0.6" stroke-linejoin="round"/>
<circle cx="480.10" cy="293.60" r="39.4" fill="none" stroke="#151515" stroke-width="1.5"/>
<rect x="361.9" y="340.0" width="6.1" height="5.6" fill="#3aa935"/>
<text x="371.2" y="345.1" font-size="6.3" text-anchor="start" font-weight="normal" fill="#262626" stroke="#262626" stroke-width="0.15" textLength="43.6" lengthAdjust="spacingAndGlyphs" >56.99% Myeloid</text>
<rect x="361.9" y="350.0" width="6.1" height="5.6" fill="#13519a"/>
<text x="371.2" y="355.1" font-size="6.3" text-anchor="start" font-weight="normal" fill="#262626" stroke="#262626" stroke-width="0.15" textLength="25.9" lengthAdjust="spacingAndGlyphs" >33.76% B</text>
<rect x="361.9" y="359.8" width="6.1" height="5.6" fill="#cf0628"/>
<text x="371.2" y="364.90000000000003" font-size="6.3" text-anchor="start" font-weight="normal" fill="#262626" stroke="#262626" stroke-width="0.15" textLength="24.6" lengthAdjust="spacingAndGlyphs" >9.24%&#160;&#160;&#160;T</text>
<rect x="453.2" y="340.0" width="6.1" height="5.6" fill="#3aa935"/>
<text x="462.9" y="345.1" font-size="6.3" text-anchor="start" font-weight="normal" fill="#262626" stroke="#262626" stroke-width="0.15" textLength="43.7" lengthAdjust="spacingAndGlyphs" >62.18% Myeloid</text>
<rect x="453.2" y="350.0" width="6.1" height="5.6" fill="#13519a"/>
<text x="462.9" y="355.1" font-size="6.3" text-anchor="start" font-weight="normal" fill="#262626" stroke="#262626" stroke-width="0.15" textLength="25.1" lengthAdjust="spacingAndGlyphs" >24.25% B</text>
<rect x="453.2" y="359.8" width="6.1" height="5.6" fill="#cf0628"/>
<text x="462.9" y="364.90000000000003" font-size="6.3" text-anchor="start" font-weight="normal" fill="#262626" stroke="#262626" stroke-width="0.15" textLength="25.1" lengthAdjust="spacingAndGlyphs" >13.57% T</text>
<text x="389.2" y="383.0" font-size="8.5" text-anchor="start" font-weight="normal" fill="#262626" stroke="#262626" stroke-width="0.15" textLength="89.8" lengthAdjust="spacingAndGlyphs" >Hematopoietic lineage</text>
</g>
</svg>
</body></html>
